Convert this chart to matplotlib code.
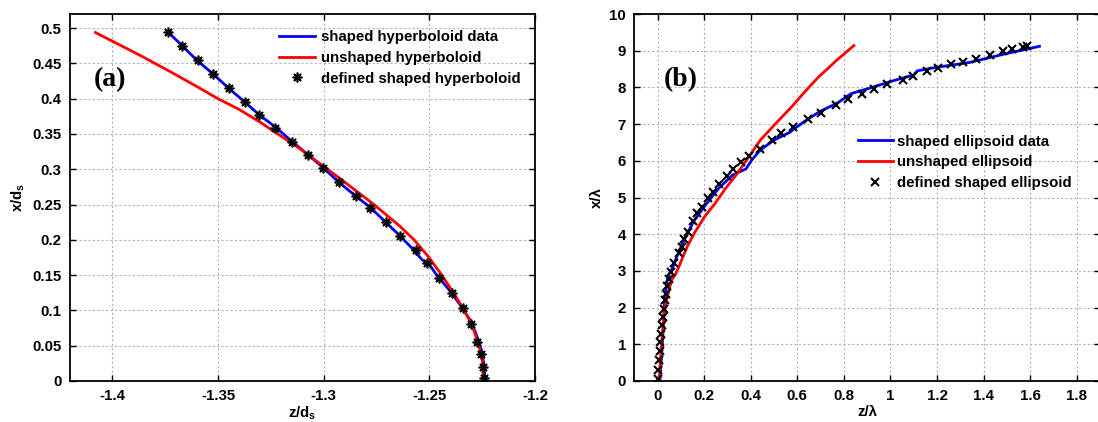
import numpy as np
import matplotlib
matplotlib.use("Agg")
import matplotlib.pyplot as plt
from matplotlib.ticker import FuncFormatter

plt.rcParams['font.family'] = ['Liberation Sans', 'DejaVu Sans']
plt.rcParams['font.weight'] = 'bold'
plt.rcParams['axes.unicode_minus'] = False
plt.rcParams['mathtext.fontset'] = 'custom'
plt.rcParams['mathtext.rm'] = 'Liberation Sans:bold'
plt.rcParams['mathtext.it'] = 'Liberation Sans:bold'
plt.rcParams['mathtext.bf'] = 'Liberation Sans:bold'

# panel (a): hyperboloid
a_def_z = [-1.3735, -1.3669, -1.3596, -1.3523, -1.3450, -1.3372, -1.3304, -1.3228, -1.3150,
           -1.3074, -1.3001, -1.2926, -1.2845, -1.2779, -1.2706, -1.2637, -1.2565, -1.2509,
           -1.2452, -1.2391, -1.2343, -1.2305, -1.2273, -1.2255, -1.2244, -1.2239]
a_def_x = [0.494, 0.475, 0.4545, 0.435, 0.415, 0.395, 0.377, 0.359, 0.339,
           0.320, 0.302, 0.282, 0.2626, 0.2455, 0.225, 0.2057, 0.1858, 0.1668,
           0.146, 0.124, 0.1028, 0.0806, 0.0559, 0.0389, 0.0199, 0.0043]
a_data_z = [-1.3735, -1.3669, -1.3600, -1.3523, -1.3450, -1.3372, -1.3304, -1.3225, -1.3152,
            -1.3080, -1.3001, -1.2926, -1.2848, -1.2779, -1.2710, -1.2640, -1.2575, -1.2535,
            -1.2500, -1.2465, -1.2400, -1.2345, -1.2300, -1.2268, -1.2250, -1.2240, -1.2237]
a_data_x = [0.494, 0.475, 0.4545, 0.435, 0.415, 0.395, 0.377, 0.359, 0.340,
            0.322, 0.302, 0.281, 0.262, 0.246, 0.226, 0.206, 0.186, 0.172,
            0.165, 0.150, 0.127, 0.104, 0.083, 0.058, 0.040, 0.020, 0.0]
a_un_z = [-1.4080, -1.3864, -1.3732, -1.3599, -1.3500, -1.3400, -1.3301, -1.3201, -1.3118,
          -1.3001, -1.2920, -1.2837, -1.2771, -1.2704, -1.2638, -1.2572, -1.2505, -1.2447,
          -1.2389, -1.2340, -1.2298, -1.2268, -1.2249, -1.2244]
a_un_x = [0.4938, 0.4607, 0.4393, 0.4171, 0.4000, 0.3848, 0.3668, 0.3469, 0.3303,
          0.3043, 0.2863, 0.2673, 0.2521, 0.2355, 0.2190, 0.2000, 0.1763, 0.1526,
          0.1265, 0.1028, 0.0791, 0.0531, 0.0294, 0.0]

# panel (b): ellipsoid
b_def_z = [0.000, 0.003, 0.006, 0.009, 0.012, 0.016, 0.019, 0.022, 0.027, 0.033, 0.037, 0.042,
           0.048, 0.057, 0.070, 0.091, 0.105, 0.115, 0.129, 0.154, 0.169, 0.190, 0.217, 0.240,
           0.262, 0.298, 0.325, 0.359, 0.391, 0.439, 0.490, 0.532, 0.580, 0.647, 0.701, 0.767,
           0.818, 0.876, 0.929, 0.984, 1.053, 1.098, 1.156, 1.206, 1.261, 1.312, 1.367, 1.427,
           1.485, 1.524, 1.568, 1.586]
b_def_x = [0.064, 0.291, 0.564, 0.819, 1.065, 1.292, 1.52, 1.747, 1.975, 2.20, 2.384, 2.584,
           2.766, 2.975, 3.203, 3.476, 3.658, 3.858, 4.049, 4.358, 4.568, 4.750, 4.977, 5.159,
           5.359, 5.596, 5.769, 5.96, 6.133, 6.324, 6.56, 6.761, 6.925, 7.143, 7.316, 7.507,
           7.671, 7.807, 7.944, 8.081, 8.208, 8.30, 8.444, 8.526, 8.635, 8.699, 8.781, 8.881,
           8.981, 9.035, 9.108, 9.135]
b_data_z = [0.010, 0.013, 0.019, 0.025, 0.030, 0.036, 0.042, 0.052, 0.062, 0.082, 0.120, 0.157,
            0.200, 0.262, 0.322, 0.359, 0.380, 0.404, 0.442, 0.502, 0.569, 0.590, 0.651, 0.696,
            0.771, 0.831, 0.921, 1.011, 1.100, 1.115, 1.190, 1.340, 1.490, 1.640]
b_data_x = [0.0, 0.3, 0.84, 1.5, 2.2, 2.5, 2.77, 2.95, 3.05, 3.38, 3.93, 4.37,
            4.75, 5.25, 5.61, 5.72, 5.78, 6.02, 6.30, 6.57, 6.78, 6.89, 7.16, 7.34,
            7.57, 7.83, 8.00, 8.18, 8.34, 8.45, 8.54, 8.68, 8.91, 9.12]
b_un_z = [0.007, 0.015, 0.022, 0.030, 0.045, 0.060, 0.079, 0.097, 0.127, 0.157, 0.202, 0.247,
          0.292, 0.337, 0.382, 0.442, 0.502, 0.577, 0.621, 0.689, 0.771, 0.843]
b_un_x = [0.0, 0.84, 1.38, 1.93, 2.38, 2.75, 2.93, 3.2, 3.66, 4.02, 4.48, 4.84,
          5.25, 5.61, 6.02, 6.57, 6.98, 7.48, 7.80, 8.27, 8.75, 9.14]

fig = plt.figure(figsize=(10.98, 4.22), dpi=100)
ax1 = fig.add_axes([70 / 1098, 1 - 381 / 422, 465 / 1098, 367 / 422])
ax2 = fig.add_axes([634.3 / 1098, 1 - 381 / 422, 465.7 / 1098, 367 / 422])

fmt = FuncFormatter(lambda v, p: '%g' % round(v, 4))


def style(ax):
    ax.grid(True, color='#b4b4b4', linestyle=(0, (2, 2)), linewidth=0.8)
    ax.tick_params(direction='in', top=True, right=True, length=4, width=1,
                   labelsize=10.8, pad=6)
    for s in ax.spines.values():
        s.set_linewidth(1.3)
    ax.xaxis.set_major_formatter(fmt)
    ax.yaxis.set_major_formatter(fmt)
    for lab in ax.get_xticklabels() + ax.get_yticklabels():
        lab.set_fontweight('bold')


# (a)
ax1.plot(a_data_z, a_data_x, color='#0000ff', lw=2, label='shaped hyperboloid data')
ax1.plot(a_un_z, a_un_x, color='#ff0000', lw=2, label='unshaped hyperboloid')
ax1.plot(a_def_z, a_def_x, ls='none', marker=(8, 2, 0), ms=7, mew=1.2, color='black',
         label='defined shaped hyperboloid')
ax1.set_xlim(-1.42, -1.2)
ax1.set_ylim(0, 0.52)
ax1.set_xticks(np.arange(-1.4, -1.19, 0.05))
ax1.set_yticks(np.arange(0, 0.51, 0.05))
style(ax1)
ax1.set_xlabel(r'$z/d_s$', fontsize=10.8, labelpad=1)
ax1.set_ylabel(r'$x/d_s$', fontsize=10.8, labelpad=4)
ax1.text(-1.4013, 0.4275, '(a)', family=['Liberation Serif'], fontsize=20, fontweight='bold',
         ha='center', va='center')
ax1.legend(loc='upper left', bbox_to_anchor=(-1.321, 0.497), bbox_transform=ax1.transData,
           frameon=False, prop={'size': 10.8, 'weight': 'bold'}, handlelength=2.4,
           handletextpad=0.4, labelspacing=0.45, borderpad=0, borderaxespad=0)

# (b)
ax2.plot(b_data_z, b_data_x, color='#0000ff', lw=2, label='shaped ellipsoid data')
ax2.plot(b_un_z, b_un_x, color='#ff0000', lw=2, label='unshaped ellipsoid')
ax2.plot(b_def_z, b_def_x, ls='none', marker='x', ms=5.5, mew=1.5, color='black',
         label='defined shaped ellipsoid')
ax2.set_xlim(-0.1, 1.9)
ax2.set_ylim(0, 10)
ax2.set_xticks(np.arange(0, 1.81, 0.2))
ax2.set_yticks(np.arange(0, 10.1, 1))
style(ax2)
ax2.set_xlabel('z/λ', fontsize=10.8, fontweight='bold', labelpad=1)
ax2.set_ylabel('x/λ', fontsize=10.8, fontweight='bold', labelpad=4)
ax2.text(0.10, 8.2, '(b)', family=['Liberation Serif'], fontsize=20, fontweight='bold',
         ha='center', va='center')
ax2.legend(loc='upper left', bbox_to_anchor=(0.861, 6.71), bbox_transform=ax2.transData,
           frameon=False, prop={'size': 10.8, 'weight': 'bold'}, handlelength=2.3,
           handletextpad=0.3, labelspacing=0.45, borderpad=0, borderaxespad=0)

fig.savefig('out.png', dpi=100, facecolor='white')
